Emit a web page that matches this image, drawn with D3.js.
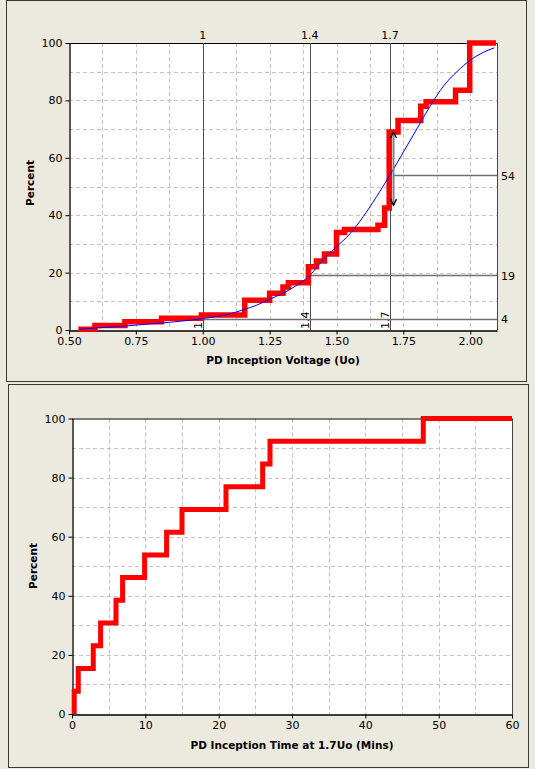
<!DOCTYPE html>
<html><head><meta charset="utf-8">
<script src="https://cdn.jsdelivr.net/npm/d3@7"></script>
<style>
html,body{margin:0;padding:0;background:#ECE9DE;}
svg{display:block;}
text{font-family:"DejaVu Sans",Verdana,sans-serif;fill:#000;}
</style></head>
<body>
<svg id="c" width="535" height="769"></svg>
<script>
// ---------- DATA ----------
// Top chart: PD inception voltage empirical CDF (step) and fitted curve
const voltStepX = [0.535, 0.597, 0.709, 0.846, 0.995, 1.157, 1.25, 1.30, 1.32, 1.395, 1.425, 1.455, 1.50, 1.53, 1.655, 1.68, 1.697, 1.73, 1.815, 1.835, 1.945, 1.998, 2.096];
const voltStepPct = [0.3, 1.6, 2.9, 4.1, 5.2, 10.4, 12.8, 15, 16.5, 22, 24, 26.5, 34, 35, 36.5, 42.5, 69, 73, 78, 79.5, 83.5, 100, 100];
const fitX = [0.54, 0.60, 0.70, 0.80, 0.90, 0.95, 1.00, 1.10, 1.15, 1.20, 1.25, 1.30, 1.35, 1.40, 1.45, 1.50, 1.55, 1.60, 1.65, 1.70, 1.75, 1.80, 1.85, 1.90, 1.95, 2.00, 2.05, 2.09];
const fitPct = [0.3, 0.7, 1.3, 2.1, 2.9, 3.4, 4.0, 5.6, 7.0, 8.6, 10.7, 12.8, 15.5, 19.0, 24.5, 29.0, 33.5, 39.5, 46.5, 54.0, 62.0, 70.0, 78.0, 85.0, 90.0, 94.0, 96.8, 98.3];
const voltTicks = [0.50, 0.75, 1.00, 1.25, 1.50, 1.75, 2.00];
const pctTicks = [0, 20, 40, 60, 80, 100];
const refVoltages = [1, 1.4, 1.7];
const refVoltLabels = ["1", "1.4", "1.7"];
const refPctValues = [4, 19, 54];
const refPctStart = [1.0, 1.4, 1.712];
const ciVoltage = 1.712;
const ciLow = 43.5, ciHigh = 69;

// Bottom chart: PD inception time at 1.7Uo
const timeStepX = [0.3, 0.3, 0.85, 2.9, 3.9, 6.0, 6.9, 9.9, 12.9, 15.0, 21.0, 26.0, 27.0, 47.9, 60];
const timeStepPct = [0, 7.7, 15.4, 23.1, 30.8, 38.5, 46.2, 53.8, 61.5, 69.2, 76.9, 84.6, 92.3, 100, 100];
const timeTicks = [0, 10, 20, 30, 40, 50, 60];

// ---------- DRAW ----------
const svg = d3.select("#c");
const bg = "#ECE9DE";

// panels
svg.append("rect").attr("x",6.5).attr("y",0.5).attr("width",520).attr("height",381).attr("fill",bg).attr("stroke","#3a3a3a");
svg.append("rect").attr("x",8.5).attr("y",384.5).attr("width",520).attr("height",383).attr("fill",bg).attr("stroke","#3a3a3a");

function panel(opts){
  const {x, y, xGrid, yGrid, xTicks, xFmt, title, titleY, ylabX, ylabY} = opts;
  const g = svg.append("g");
  const [x0,x1] = x.range(), [y0,y1] = y.range();
  g.append("rect").attr("x",x0).attr("y",y1).attr("width",x1-x0).attr("height",y0-y1).attr("fill","#fff");
  g.selectAll(".gv").data(xGrid).enter().append("line")
    .attr("x1",d=>Math.round(x(d))+0.5).attr("x2",d=>Math.round(x(d))+0.5)
    .attr("y1",y1).attr("y2",y0).attr("stroke","#c4c4c4").attr("stroke-dasharray","4,3");
  g.selectAll(".gh").data(yGrid).enter().append("line")
    .attr("y1",d=>Math.round(y(d))+0.5).attr("y2",d=>Math.round(y(d))+0.5)
    .attr("x1",x0).attr("x2",x1).attr("stroke","#c4c4c4").attr("stroke-dasharray","4,3");
  // frame top/right
  g.append("line").attr("x1",x0).attr("x2",x1).attr("y1",y1+0.5).attr("y2",y1+0.5).attr("stroke","#000");
  g.append("line").attr("x1",x1+0.5).attr("x2",x1+0.5).attr("y1",y1).attr("y2",y0).attr("stroke","#444");
  const ax = g.append("g").attr("transform",`translate(0,${y0+0.5})`)
    .call(d3.axisBottom(x).tickValues(xTicks).tickFormat(xFmt).tickSize(4).tickSizeOuter(0).tickPadding(3));
  const ay = g.append("g").attr("transform",`translate(${x0+0.5},0)`)
    .call(d3.axisLeft(y).tickValues(pctTicks).tickSize(4).tickSizeOuter(0).tickPadding(3));
  [ax,ay].forEach(a=>{
    a.selectAll("text").attr("font-size",11).attr("font-family","DejaVu Sans, sans-serif").attr("fill","#000");
    a.select(".domain").attr("stroke","#000").attr("stroke-width",1.3);
    a.selectAll(".tick line").attr("stroke","#000");
  });
  g.append("text").attr("x",(x0+x1)/2).attr("y",titleY).attr("text-anchor","middle")
    .attr("font-size",10.5).attr("font-weight","bold").text(title);
  g.append("text").attr("transform",`translate(${ylabX},${ylabY}) rotate(-90)`).attr("text-anchor","middle")
    .attr("font-size",10.5).attr("font-weight","bold").text("Percent");
  return g;
}

// ----- top chart -----
const xv = d3.scaleLinear().domain([0.5, 2.1]).range([69, 497]);
const yv = d3.scaleLinear().domain([0, 100]).range([330, 43]);
const gT = panel({x:xv, y:yv, xGrid:d3.range(0.625, 2.09, 0.125), yGrid:d3.range(10,100,10),
  xTicks:voltTicks, xFmt:d3.format(".2f"), title:"PD Inception Voltage (Uo)", titleY:364, ylabX:34, ylabY:183});

// reference verticals
gT.selectAll(".rv").data(refVoltages).enter().append("line")
  .attr("x1",d=>Math.round(xv(d))+0.5).attr("x2",d=>Math.round(xv(d))+0.5)
  .attr("y1",yv(100)).attr("y2",yv(0)).attr("stroke","#505050");
gT.selectAll(".rvt").data(refVoltages).enter().append("text")
  .attr("x",d=>xv(d)).attr("y",39).attr("text-anchor","middle").attr("font-size",11)
  .text((d,i)=>refVoltLabels[i]);
gT.selectAll(".rvb").data(refVoltages).enter().append("text")
  .attr("transform",d=>`translate(${Math.round(xv(d))-1},${yv(0)-1}) rotate(-90)`)
  .attr("text-anchor","start").attr("font-size",11).text((d,i)=>refVoltLabels[i]);
// reference horizontals
gT.selectAll(".rh").data(refPctValues).enter().append("line")
  .attr("x1",(d,i)=>xv(refPctStart[i])).attr("x2",xv(2.1))
  .attr("y1",d=>Math.round(yv(d))+0.5).attr("y2",d=>Math.round(yv(d))+0.5)
  .attr("stroke","#707070").attr("stroke-width",1.4);
gT.selectAll(".rht").data(refPctValues).enter().append("text")
  .attr("x",501).attr("y",d=>yv(d)+4.5).attr("font-size",11).text(d=>d);

// step line
const stepLine = d3.line().curve(d3.curveStepAfter);
gT.append("path")
  .attr("d", stepLine.x(d=>xv(d[0])).y(d=>yv(d[1]))(voltStepX.map((v,i)=>[v, voltStepPct[i]])))
  .attr("fill","none").attr("stroke","#FF0000").attr("stroke-width",5.5).attr("stroke-linejoin","miter");
// fitted curve
gT.append("path")
  .attr("d", d3.line().curve(d3.curveMonotoneX).x(d=>xv(d[0])).y(d=>yv(d[1]))(fitX.map((v,i)=>[v, fitPct[i]])))
  .attr("fill","none").attr("stroke","#0000FF").attr("stroke-width",1);
// confidence arrow
const ax0 = Math.round(xv(ciVoltage))+0.5;
gT.append("line").attr("x1",ax0).attr("x2",ax0).attr("y1",yv(ciHigh)).attr("y2",yv(ciLow))
  .attr("stroke","#808080").attr("stroke-width",2);
[[ciHigh,1],[ciLow,-1]].forEach(([v,dir])=>{
  const ty = yv(v);
  gT.append("path").attr("d",`M${ax0-3},${ty+dir*6}L${ax0},${ty}L${ax0+3},${ty+dir*6}`)
    .attr("fill","none").attr("stroke","#000").attr("stroke-width",1.4);
});

// ----- bottom chart -----
const xt = d3.scaleLinear().domain([0, 60]).range([72, 512]);
const yt = d3.scaleLinear().domain([0, 100]).range([714, 418.5]);
const gB = panel({x:xt, y:yt, xGrid:d3.range(5, 60, 5), yGrid:d3.range(10,100,10),
  xTicks:timeTicks, xFmt:d3.format("d"), title:"PD Inception Time at 1.7Uo (Mins)", titleY:749, ylabX:37, ylabY:566});
gB.append("path")
  .attr("d", d3.line().curve(d3.curveStepAfter).x(d=>xt(d[0])).y(d=>yt(d[1]))(timeStepX.map((v,i)=>[v, timeStepPct[i]])))
  .attr("fill","none").attr("stroke","#FF0000").attr("stroke-width",5);
</script>
</body></html>
